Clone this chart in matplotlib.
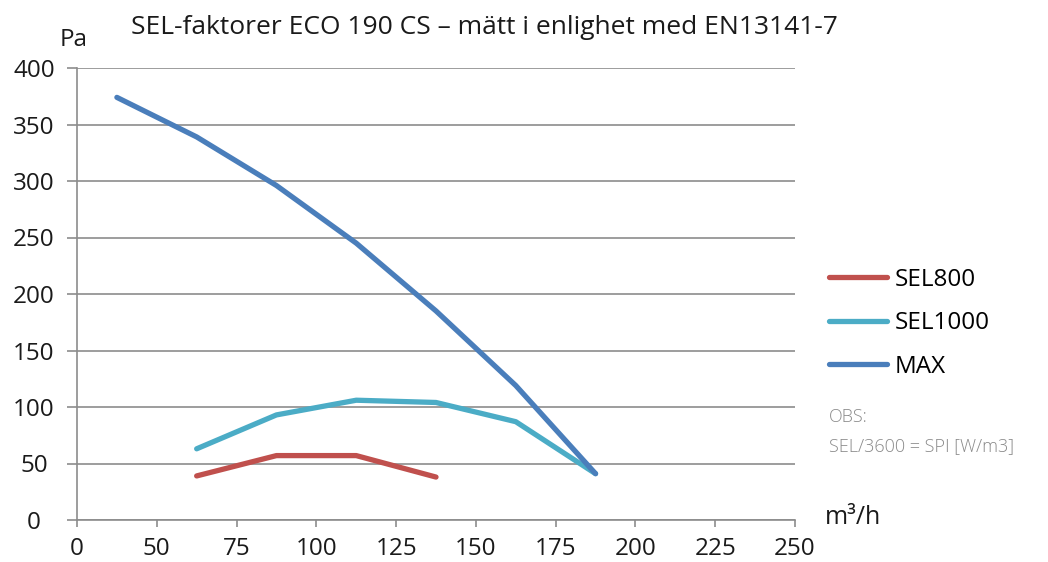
import matplotlib
matplotlib.use("Agg")
from matplotlib import pyplot as plt
import numpy as np

# category axis (Excel style): labels sit on the ticks, points sit between them
x_labels = ["0", "50", "75", "100", "125", "150", "175", "200", "225", "250"]

max_start = 0
max_vals = [374, 339, 296, 245, 185, 119, 41]
sel1000_start = 1
sel1000_vals = [63, 93, 106, 104, 87, 41]
sel800_start = 1
sel800_vals = [39, 57, 57, 38]

y_ticks = [0, 50, 100, 150, 200, 250, 300, 350, 400]

RED = "#C0504D"
TEAL = "#4BACC6"
BLUE = "#4A7EBB"
GRID = "#8C8C8C"
FONT = "Open Sans"


def series_x(start, vals):
    return np.arange(start, start + len(vals)) + 0.5


def main():
    plt.rcParams["font.family"] = [FONT, "DejaVu Sans"]
    fig = plt.figure(figsize=(10.48, 5.62), dpi=100)
    ax = fig.add_axes([77 / 1048, 1 - 520 / 562, (795 - 77) / 1048, (520 - 68) / 562])

    lw = 3.8
    ax.plot(series_x(sel800_start, sel800_vals), sel800_vals, color=RED, lw=lw,
            solid_capstyle="round", solid_joinstyle="round", label="SEL800", zorder=3)
    ax.plot(series_x(sel1000_start, sel1000_vals), sel1000_vals, color=TEAL, lw=lw,
            solid_capstyle="round", solid_joinstyle="round", label="SEL1000", zorder=3)
    ax.plot(series_x(max_start, max_vals), max_vals, color=BLUE, lw=lw,
            solid_capstyle="round", solid_joinstyle="round", label="MAX", zorder=4)

    ax.set_xlim(0, len(x_labels) - 1)
    ax.set_ylim(0, 400)
    ax.set_xticks(range(len(x_labels)))
    ax.set_xticklabels(x_labels)
    ax.set_yticks(y_ticks)
    ax.set_yticklabels([str(v) for v in y_ticks])

    ax.grid(axis="y", color=GRID, lw=1.2)
    ax.set_axisbelow(True)
    for s in ["top", "right"]:
        ax.spines[s].set_visible(False)
    for s in ["left", "bottom"]:
        ax.spines[s].set_color(GRID)
        ax.spines[s].set_linewidth(1.2)
    ax.tick_params(axis="y", length=7, width=1.2, color=GRID, pad=24,
                   labelsize=17.5, labelcolor="#1a1a1a")
    for lab in ax.get_yticklabels():
        lab.set_horizontalalignment("center")
    ax.tick_params(axis="x", length=5, width=1.2, color=GRID, pad=7,
                   labelsize=17.5, labelcolor="#1a1a1a")

    fig.text(484 / 1048, 1 - 28 / 562, "SEL-faktorer ECO 190 CS – mätt i enlighet med EN13141-7",
             ha="center", va="center", fontsize=19, color="#1a1a1a")
    fig.text(74 / 1048, 1 - 40 / 562, "Pa", ha="center", va="center", fontsize=17.5,
             color="#1a1a1a")
    fig.text(853 / 1048, 1 - 518 / 562, "m³/h", ha="center", va="center", fontsize=18,
             color="#1a1a1a")

    ax.legend(loc="upper left", bbox_to_anchor=(829 / 1048, 1 - 268 / 562),
              bbox_transform=fig.transFigure, frameon=False, fontsize=17.5,
              handlelength=2.4, handletextpad=0.3, labelspacing=0.8,
              borderaxespad=0, borderpad=0)

    fig.text(829 / 1048, 1 - 417 / 562, "OBS:", ha="left", va="center", fontsize=13,
             color="#8a8a8a", fontweight="light")
    fig.text(829 / 1048, 1 - 446 / 562, "SEL/3600 = SPI [W/m3]", ha="left", va="center",
             fontsize=13, color="#8a8a8a", fontweight="light")

    fig.savefig("out.png", dpi=100)


if __name__ == "__main__":
    main()
